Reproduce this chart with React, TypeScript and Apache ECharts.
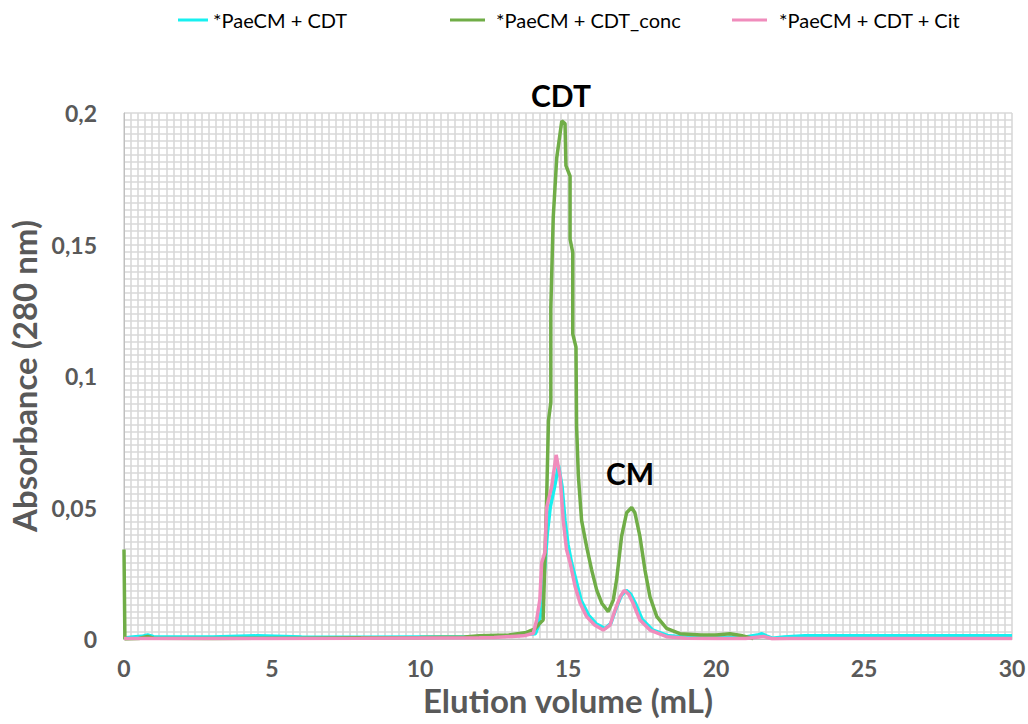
import React, { useEffect, useRef } from "react";
import * as echarts from "echarts";

const seriesNames = ["*PaeCM + CDT", "*PaeCM + CDT_conc", "*PaeCM + CDT + Cit"];
const seriesColors = ["#17F0F0", "#70AD47", "#F08CBC"];

// *PaeCM + CDT (cyan)
const cdtX = [0, 0.3, 0.6, 0.8, 1.0, 1.5, 3, 4.5, 6, 8, 10, 12, 13, 13.6, 13.9, 14.0, 14.12, 14.2, 14.3, 14.4, 14.55, 14.68, 14.8, 14.9, 15.0, 15.12, 15.3, 15.45, 15.7, 15.95, 16.25, 16.45, 16.62, 16.8, 16.97, 17.12, 17.28, 17.5, 17.85, 18.4, 19, 20, 21, 21.4, 21.55, 21.7, 21.9, 22.3, 23, 25, 27, 30];
const cdtY = [0.0004, 0.0008, 0.001, 0.0015, 0.0009, 0.0008, 0.0008, 0.0012, 0.0008, 0.0007, 0.0008, 0.0009, 0.0012, 0.0018, 0.002, 0.005, 0.012, 0.025, 0.04, 0.05, 0.058, 0.066, 0.058, 0.045, 0.036, 0.029, 0.021, 0.0145, 0.009, 0.0058, 0.004, 0.006, 0.0115, 0.0165, 0.0185, 0.017, 0.0135, 0.0075, 0.0035, 0.0012, 0.0008, 0.0006, 0.0008, 0.0015, 0.002, 0.0012, 0.0003, 0.0008, 0.0012, 0.0012, 0.0012, 0.0012];

// *PaeCM + CDT_conc (green)
const concX = [0, 0.03, 0.5, 0.8, 1.0, 3, 6, 8, 10, 11.5, 12, 13, 13.6, 13.9, 14.05, 14.16, 14.28, 14.34, 14.42, 14.42, 14.5, 14.62, 14.79, 14.9, 14.93, 15.07, 15.07, 15.16, 15.16, 15.27, 15.29, 15.35, 15.46, 15.63, 15.8, 15.97, 16.14, 16.36, 16.53, 16.64, 16.81, 16.98, 17.15, 17.26, 17.43, 17.6, 17.77, 18.0, 18.33, 18.78, 19.5, 20.0, 20.47, 20.9, 21.2, 21.26];
const concY = [0.034, 0, 0.0002, 0.001, 0.0003, 0.0002, 0.0003, 0.0005, 0.0006, 0.0008, 0.0012, 0.0015, 0.0025, 0.004, 0.006, 0.0072, 0.054, 0.083, 0.09, 0.126, 0.16, 0.183, 0.197, 0.196, 0.18, 0.176, 0.152, 0.147, 0.116, 0.111, 0.081, 0.062, 0.045, 0.035, 0.0262, 0.0186, 0.0136, 0.0104, 0.0148, 0.0224, 0.039, 0.048, 0.05, 0.048, 0.039, 0.0262, 0.016, 0.0085, 0.004, 0.002, 0.0015, 0.0015, 0.002, 0.0012, 0.0004, 0];

// *PaeCM + CDT + Cit (pink)
const citX = [0, 2, 5, 8, 10, 12, 12.5, 13.5, 13.83, 13.94, 14.05, 14.11, 14.22, 14.28, 14.45, 14.6, 14.73, 14.84, 14.95, 15.07, 15.24, 15.41, 15.63, 15.9, 16.19, 16.42, 16.59, 16.76, 16.9, 17.05, 17.2, 17.43, 17.77, 18.33, 19, 20, 21, 21.45, 21.6, 21.9, 22.5, 25, 30];
const citY = [0.0002, 0.0002, 0.0002, 0.0003, 0.0004, 0.0005, 0.0006, 0.0012, 0.0022, 0.0072, 0.015, 0.029, 0.033, 0.05, 0.058, 0.07, 0.062, 0.045, 0.034, 0.029, 0.02, 0.0136, 0.0085, 0.0053, 0.0034, 0.0053, 0.011, 0.016, 0.0185, 0.017, 0.0136, 0.0072, 0.0034, 0.0009, 0.0003, 0.0002, 0.0002, 0.0008, 0.001, 0.0001, 0.0002, 0.0002, 0.0002];

const xTicks = [0, 5, 10, 15, 20, 25, 30];
const yTicks = [0, 0.05, 0.1, 0.15, 0.2];

const zip = (xs: number[], ys: number[]) => xs.map((x, i) => [x, ys[i]]);

export default function App() {
  const ref = useRef<HTMLDivElement>(null);
  useEffect(() => {
    if (!ref.current) return;
    const chart = echarts.init(ref.current, undefined, { renderer: "svg" });
    const font = "Lato, 'Open Sans', sans-serif";
    const gridLine = { show: true, lineStyle: { color: "#D9D9D9", width: 1.6 } };
    const datasets = [zip(cdtX, cdtY), zip(concX, concY), zip(citX, citY)];
    const legendLefts = [173, 445, 727];
    const legendPads = [0, 6, 7];
    const legendWidths = [30, 35, 35];
    chart.setOption({
      animation: false,
      backgroundColor: "#FFFFFF",
      textStyle: { fontFamily: font },
      legend: seriesNames.map((n, i) => ({
        data: [n],
        left: legendLefts[i],
        top: 5,
        icon: "rect",
        itemWidth: legendWidths[i],
        itemHeight: 3,
        textStyle: { fontFamily: font, fontSize: 20, color: "#000000", padding: [0, 0, 0, legendPads[i]] },
      })),
      grid: { left: 124, right: 16, top: 113, bottom: 85, containLabel: false, outerBoundsMode: "none" },
      xAxis: {
        type: "value",
        min: xTicks[0],
        max: xTicks[xTicks.length - 1],
        interval: 5,
        name: "Elution volume (mL)",
        nameLocation: "middle",
        nameGap: 44,
        nameTextStyle: { fontFamily: font, fontSize: 33, fontWeight: "bold", color: "#595959" },
        axisLine: { show: true, lineStyle: { color: "#BFBFBF", width: 1 } },
        axisTick: { show: false },
        axisLabel: { fontFamily: font, fontSize: 23, fontWeight: "bold", color: "#595959", margin: 17 },
        splitLine: gridLine,
        minorTick: { show: false, splitNumber: 21 },
        minorSplitLine: gridLine,
      },
      yAxis: {
        type: "value",
        min: yTicks[0],
        max: yTicks[yTicks.length - 1],
        interval: 0.05,
        name: "Absorbance (280 nm)",
        nameLocation: "middle",
        nameGap: 73,
        nameTextStyle: { fontFamily: font, fontSize: 33, fontWeight: "bold", color: "#595959" },
        axisLine: { show: true, lineStyle: { color: "#BFBFBF", width: 1 } },
        axisTick: { show: false },
        axisLabel: {
          fontFamily: font,
          fontSize: 23,
          fontWeight: "bold",
          color: "#595959",
          margin: 27,
          formatter: (v: number) => String(Math.round(v * 100) / 100).replace(".", ","),
        },
        splitLine: gridLine,
        minorTick: { show: false, splitNumber: 19 },
        minorSplitLine: gridLine,
      },
      graphic: [
        { type: "text", left: 531, top: 80, z: 100, style: { text: "CDT", font: `bold 30px ${font}`, fill: "#000000" } },
        { type: "text", left: 606, top: 458, z: 100, style: { text: "CM", font: `bold 30px ${font}`, fill: "#000000" } },
      ],
      series: seriesNames.map((n, i) => ({
        name: n,
        type: "line",
        data: datasets[i],
        showSymbol: false,
        symbol: "none",
        color: seriesColors[i],
        lineStyle: { color: seriesColors[i], width: 3.5 },
        itemStyle: { color: seriesColors[i] },
        z: 2 + i,
      })),
    });
    return () => chart.dispose();
  }, []);
  return (
    <div
      ref={ref}
      style={{ position: "absolute", left: 0, top: 0, width: 1028, height: 724 }}
    />
  );
}
